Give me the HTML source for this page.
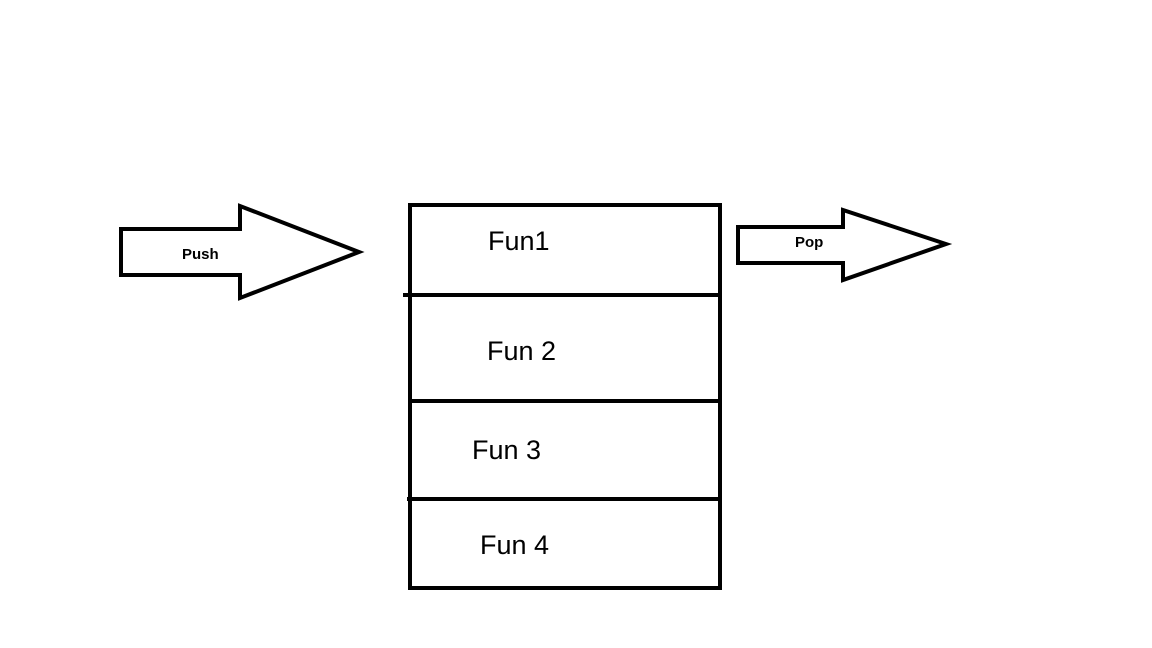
<!DOCTYPE html>
<html><head><meta charset="utf-8"><style>
html,body{margin:0;padding:0;background:#fff;}
svg{display:block}
</style></head><body>
<svg width="1152" height="648" viewBox="0 0 1152 648" xmlns="http://www.w3.org/2000/svg">
<rect width="1152" height="648" fill="#fff"/>
<g fill="none" stroke="#000" stroke-width="4" stroke-linejoin="miter">
<polygon points="121,229 240,229 240,206 359,252 240,298 240,275 121,275"/>
<polygon points="738,227 843,227 843,210 946,244 843,280 843,263 738,263"/>
<rect x="410" y="205" width="310" height="383"/>
<line x1="403" y1="295" x2="720" y2="295"/>
<line x1="410" y1="401" x2="722" y2="401"/>
<line x1="407" y1="499" x2="720" y2="499"/>
</g>
<g font-family="Liberation Sans, sans-serif" fill="#000">
<text x="182" y="259" font-size="15" font-weight="bold">Push</text>
<text x="795" y="247" font-size="15" font-weight="bold">Pop</text>
<text x="488" y="250" font-size="27">Fun1</text>
<text x="487" y="360" font-size="27">Fun 2</text>
<text x="472" y="459" font-size="27">Fun 3</text>
<text x="480" y="554" font-size="27">Fun 4</text>
</g>
</svg>
</body></html>
